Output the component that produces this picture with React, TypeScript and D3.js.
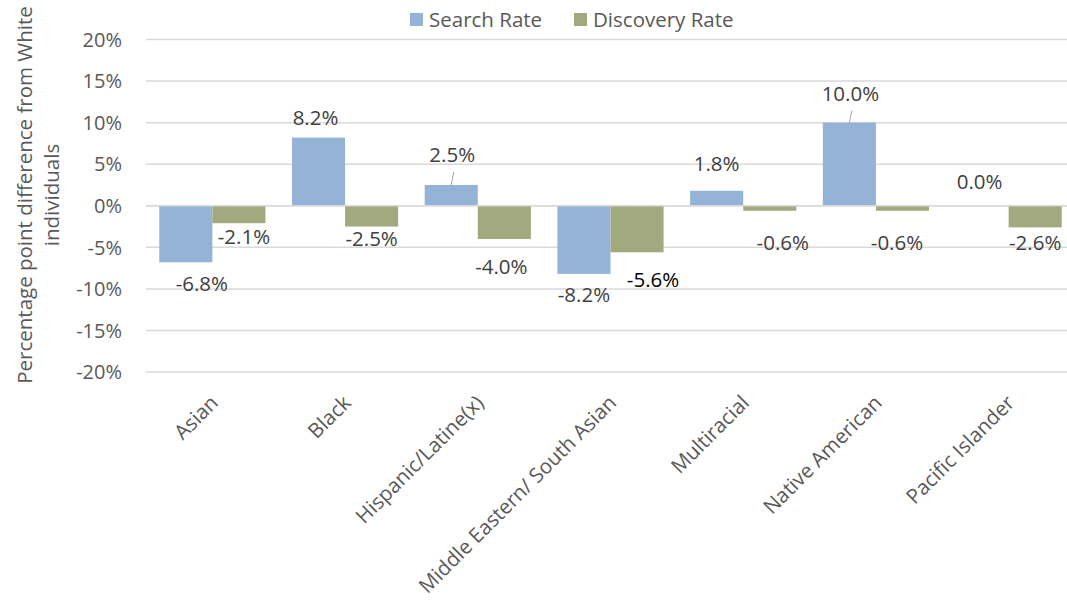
import React from "react";
import * as d3 from "d3";

const categories = [
  "Asian",
  "Black",
  "Hispanic/Latine(x)",
  "Middle Eastern/ South Asian",
  "Multiracial",
  "Native American",
  "Pacific Islander",
];
const searchRate = [-6.8, 8.2, 2.5, -8.2, 1.8, 10.0, 0.0];
const discoveryRate = [-2.1, -2.5, -4.0, -5.6, -0.6, -0.6, -2.6];
const yTicks = [-20, -15, -10, -5, 0, 5, 10, 15, 20];

// hand-moved data labels, as in the original workbook (px)
const searchNudge = [[16, 1], [-3, 0], [1, -10], [0, 1], [0, -7], [1, -9], [-2.5, -4]];
const discoveryNudge = [[5, -7], [0, -7.5], [-3, 8], [16, 7], [13, 11.5], [-5.5, 11.5], [0, -5]];
const leaders = [false, false, true, false, false, true, false];

const W = 1067;
const H = 601;
const FONT = "'Open Sans', sans-serif";
const BLUE = "#95b3d6";
const GREEN = "#a3a97e";

export default function App() {
  const x = d3
    .scaleBand()
    .domain(categories)
    .range([146, 1075])
    .paddingInner(0.2)
    .paddingOuter(0.1);
  const x1 = d3.scaleBand().domain(["s", "d"]).range([0, x.bandwidth()]);
  const y = d3.scaleLinear().domain([-20, 20]).range([372, 39.5]);

  const series = [
    { key: "s", values: searchRate, color: BLUE, nudge: searchNudge },
    { key: "d", values: discoveryRate, color: GREEN, nudge: discoveryNudge },
  ];

  return (
    <svg
      width={W}
      height={H}
      style={{ position: "absolute", left: 0, top: 0, background: "#fff" }}
      fontFamily={FONT}
    >
      {/* gridlines */}
      {yTicks.map((t) => (
        <line
          key={t}
          x1={146}
          x2={W}
          y1={y(t)}
          y2={y(t)}
          stroke="#d9d9d9"
          strokeWidth={1.5}
        />
      ))}
      {yTicks.map((t) => (
        <text
          key={"l" + t}
          x={122}
          y={y(t)}
          dy="0.36em"
          textAnchor="end"
          fontSize={20}
          fill="#595959"
        >
          {t + "%"}
        </text>
      ))}

      {/* bars */}
      {series.map((s) =>
        categories.map((c, i) => {
          const v = s.values[i];
          const bx = (x(c) ?? 0) + (x1(s.key) ?? 0);
          return (
            <rect
              key={s.key + c}
              x={bx}
              y={y(Math.max(0, v))}
              width={x1.bandwidth()}
              height={Math.abs(y(v) - y(0))}
              fill={s.color}
            />
          );
        })
      )}
      <line x1={146} x2={W} y1={y(0)} y2={y(0)} stroke="#d9d9d9" strokeWidth={1.5} />

      {/* data labels */}
      {series.map((s) =>
        categories.map((c, i) => {
          const v = s.values[i];
          const cx = (x(c) ?? 0) + (x1(s.key) ?? 0) + x1.bandwidth() / 2;
          const base = v >= 0 ? y(v) - 20 : y(v) + 20;
          const lx = cx + s.nudge[i][0];
          const ly = base + s.nudge[i][1];
          const black = s.key === "d" && i === 3;
          return (
            <g key={"dl" + s.key + c}>
              {s.key === "s" && leaders[i] && (
                <line
                  x1={lx + 1.5}
                  y1={ly + 17}
                  x2={cx}
                  y2={y(v)}
                  stroke="#a6a6a6"
                  strokeWidth={1}
                />
              )}
              <text
                x={lx}
                y={ly}
                dy="0.36em"
                textAnchor="middle"
                fontSize={20.5}
                fill={black ? "#000" : "#404040"}
              >
                {v.toFixed(1) + "%"}
              </text>
            </g>
          );
        })
      )}

      {/* category labels */}
      {categories.map((c) => {
        const cx = (x(c) ?? 0) + x.bandwidth() / 2;
        return (
          <text
            key={"c" + c}
            transform={`translate(${cx - 3},${394}) rotate(-45)`}
            textAnchor="end"
            dy="0.7em"
            fontSize={20.5}
            fill="#595959"
          >
            {c}
          </text>
        );
      })}

      {/* y axis title */}
      <text
        transform={`translate(0,195) rotate(-90)`}
        textAnchor="middle"
        fontSize={20.5}
        fill="#595959"
      >
        <tspan x={0} y={32}>
          Percentage point difference from White
        </tspan>
        <tspan x={0} y={59}>
          individuals
        </tspan>
      </text>

      {/* legend */}
      <rect x={410} y={13} width={13} height={13} fill={BLUE} />
      <text x={429} y={20} dy="0.36em" fontSize={20.5} fill="#595959">
        Search Rate
      </text>
      <rect x={574} y={13} width={13} height={13} fill={GREEN} />
      <text x={593} y={20} dy="0.36em" fontSize={20.5} fill="#595959">
        Discovery Rate
      </text>
    </svg>
  );
}
